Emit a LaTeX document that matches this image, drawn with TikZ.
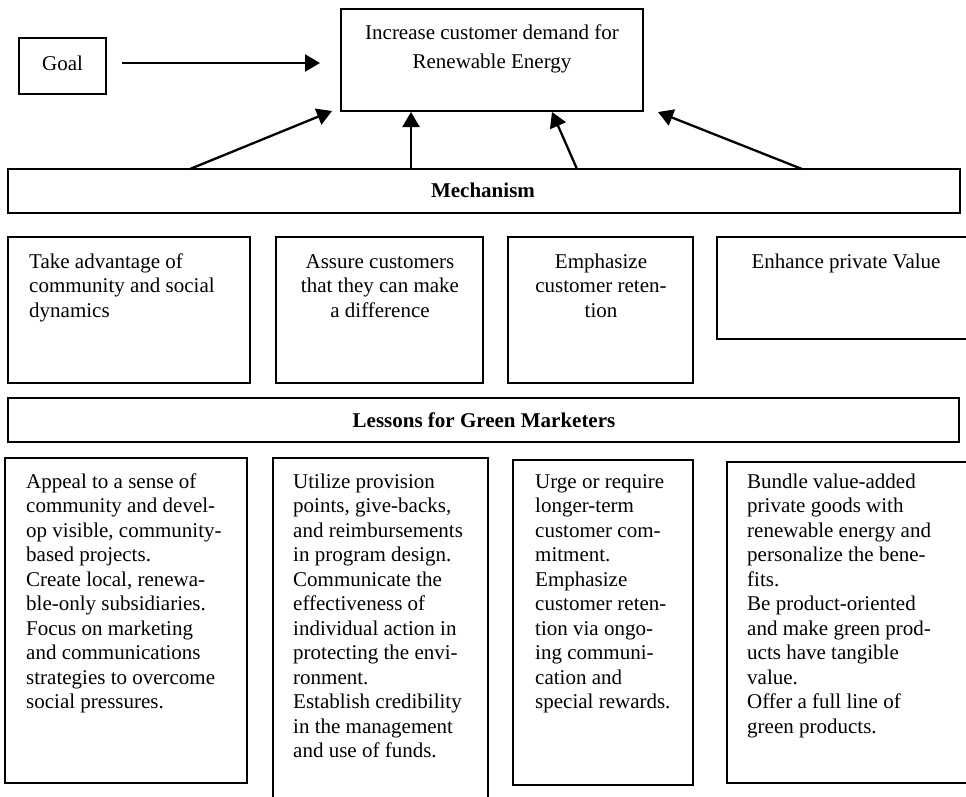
\documentclass[tikz,border=0pt]{standalone}
\usepackage{fontspec}
\setmainfont{Liberation Serif}
\usetikzlibrary{arrows.meta}
\begin{document}
\begin{tikzpicture}[x=1pt,y=-1pt,
  box/.style={draw, line width=1.8pt, inner sep=0pt, outer sep=0pt},
  txt/.style={inner sep=0pt, font=\fontsize{21}{24.5}\selectfont},
  arr/.style={-{Triangle[length=15pt,width=17pt]}, line width=2.3pt}]
\useasboundingbox (0,0) rectangle (966,796);
% boxes
\node[box, minimum width=87pt, minimum height=56pt] (goal) at (62.5,66) {};
\node[box, minimum width=302pt, minimum height=102pt] (top) at (492,60) {};
\node[box, minimum width=952pt, minimum height=44pt] (mech) at (484,191) {};
\node[box, minimum width=242pt, minimum height=146pt] (m1) at (129,310) {};
\node[box, minimum width=207pt, minimum height=146pt] (m2) at (379.5,310) {};
\node[box, minimum width=185pt, minimum height=146pt] (m3) at (600.5,310) {};
\node[box, minimum width=258pt, minimum height=102pt] (m4) at (846,288) {};
\node[box, minimum width=951pt, minimum height=44pt] (less) at (483.5,420) {};
\node[box, minimum width=242pt, minimum height=325pt] (l1) at (126,620.5) {};
\node[box, minimum width=215pt, minimum height=352pt] (l2) at (380.5,634) {};
\node[box, minimum width=180pt, minimum height=325pt] (l3) at (603,622.5) {};
\node[box, minimum width=253pt, minimum height=321pt] (l4) at (853.5,622.5) {};
% texts
\node[txt, anchor=base] (tgoal) at (62.5,70) {Goal};
\node[txt, anchor=north, align=center, font=\fontsize{21}{29.5}\selectfont] (ttop) at (492,18.35)
  {\strut Increase customer demand for\\ Renewable Energy};
\node[txt, anchor=base, font=\fontsize{21}{24.5}\selectfont\bfseries] (tmech) at (483,197) {Mechanism};
\node[txt, anchor=base, font=\fontsize{21}{24.5}\selectfont\bfseries] (tless) at (484,427) {Lessons for Green Marketers};
\node[txt, anchor=north west, align=left] (tm1) at (29,250.85)
  {\strut Take advantage of\\ community and social\\ dynamics};
\node[txt, anchor=north, align=center] (tm2) at (380,250.85)
  {\strut Assure customers\\ that they can make\\ a difference};
\node[txt, anchor=north, align=center] (tm3) at (601,250.85)
  {\strut Emphasize\\ customer reten-\\ tion};
\node[txt, anchor=north, align=center] (tm4) at (846,250.85)
  {\strut Enhance private Value};
\node[txt, anchor=north west, align=left] (tl1) at (26,471)
  {\strut Appeal to a sense of\\ community and devel-\\ op visible, community-\\ based projects.\\
   Create local, renewa-\\ ble-only subsidiaries.\\ Focus on marketing\\ and communications\\
   strategies to overcome\\ social pressures.};
\node[txt, anchor=north west, align=left] (tl2) at (293,471)
  {\strut Utilize provision\\ points, give-backs,\\ and reimbursements\\ in program design.\\
   Communicate the\\ effectiveness of\\ individual action in\\ protecting the envi-\\
   ronment.\\ Establish credibility\\ in the management\\ and use of funds.};
\node[txt, anchor=north west, align=left] (tl3) at (535,471)
  {\strut Urge or require\\ longer-term\\ customer com-\\ mitment.\\ Emphasize\\
   customer reten-\\ tion via ongo-\\ ing communi-\\ cation and\\ special rewards.};
\node[txt, anchor=north west, align=left] (tl4) at (747,471)
  {\strut Bundle value-added\\ private goods with\\ renewable energy and\\ personalize the bene-\\
   fits.\\ Be product-oriented\\ and make green prod-\\ ucts have tangible\\ value.\\
   Offer a full line of\\ green products.};
% arrows
\coordinate (g1) at (122,63);
\coordinate (g2) at (320,63);
\coordinate (a1s) at (190,169);
\coordinate (a1e) at (332,111);
\coordinate (a2s) at (411,169);
\coordinate (a2e) at (411,112);
\coordinate (a3s) at (577,169);
\coordinate (a3e) at (552,112);
\coordinate (a4s) at (802,169);
\coordinate (a4e) at (658,112);
\draw[arr] (g1) -- (g2);
\draw[arr] (a1s) -- (a1e);
\draw[arr] (a2s) -- (a2e);
\draw[arr] (a3s) -- (a3e);
\draw[arr] (a4s) -- (a4e);
\end{tikzpicture}
\end{document}
